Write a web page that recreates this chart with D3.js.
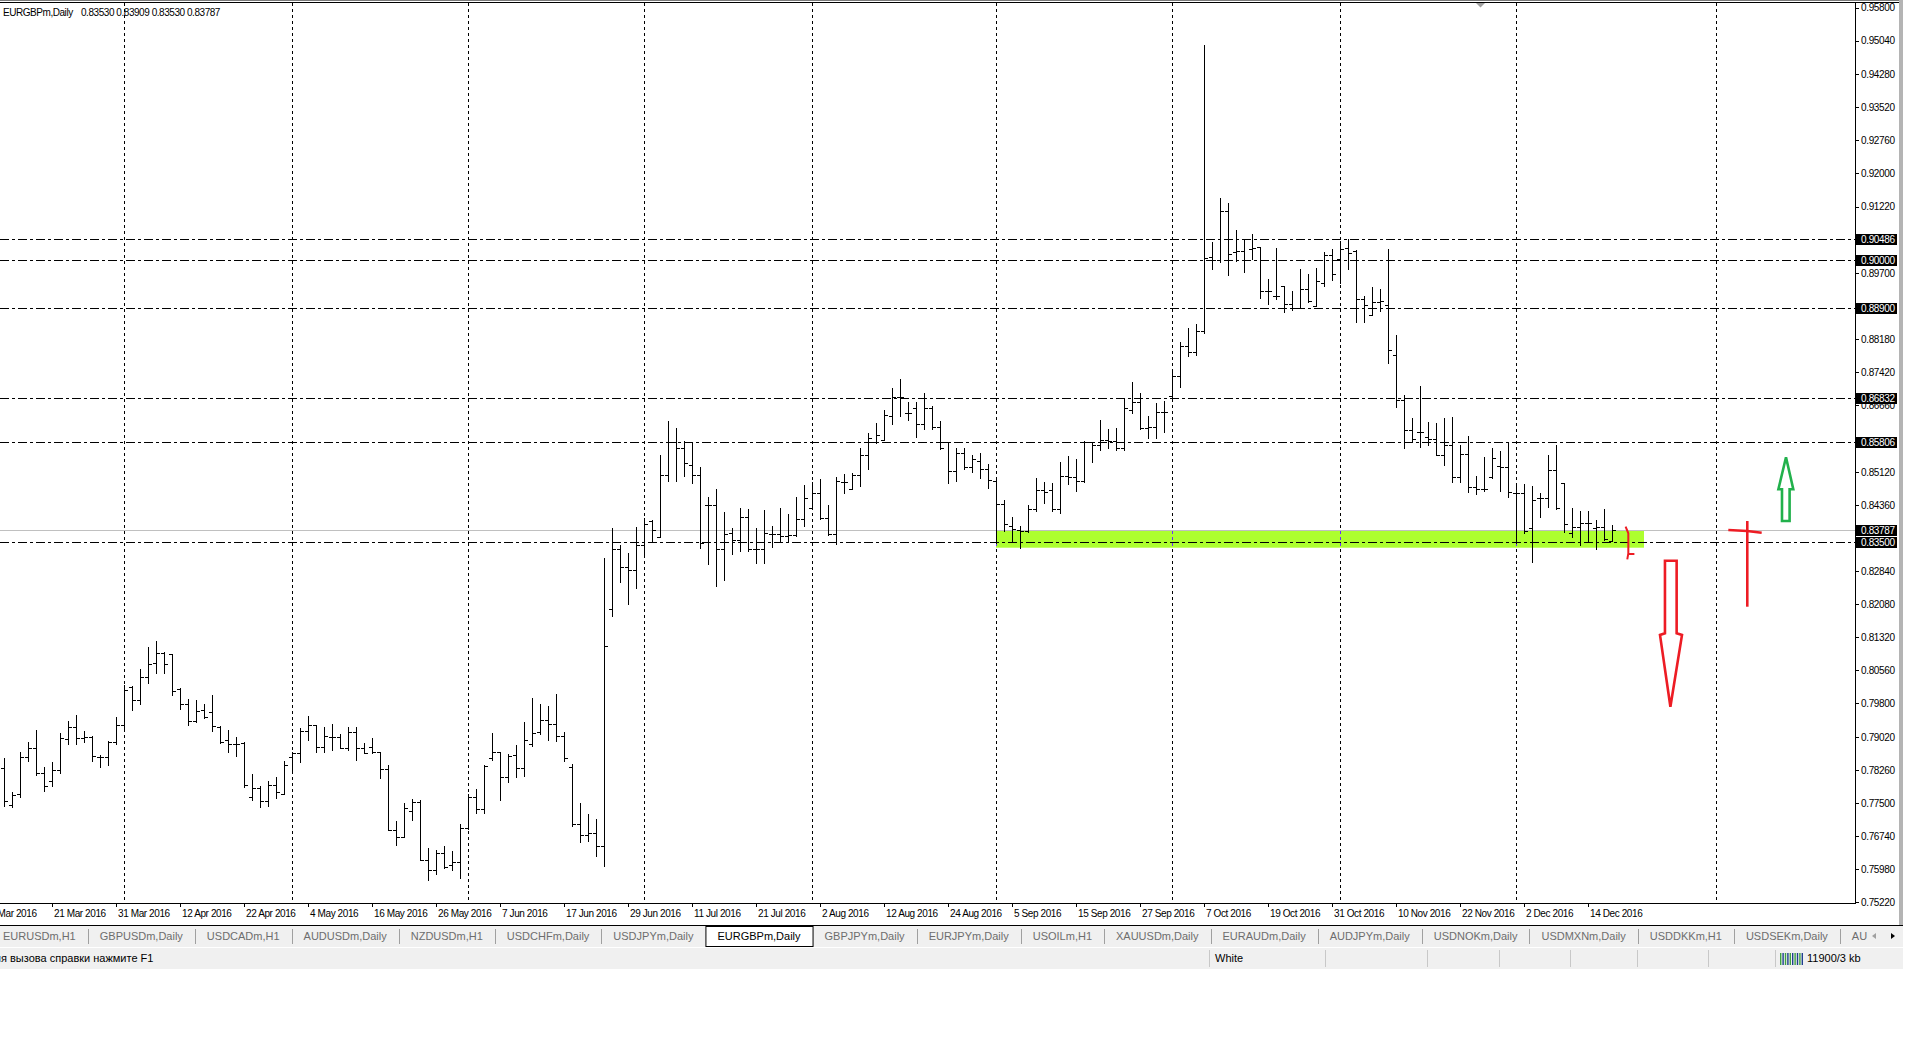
<!DOCTYPE html>
<html><head><meta charset="utf-8">
<script src="https://cdn.jsdelivr.net/npm/d3@7/dist/d3.min.js"></script>
<style>
html,body{margin:0;padding:0;background:#fff;overflow:hidden;}
svg{display:block;}
text{font-family:"Liberation Sans",Arial,sans-serif;}
</style></head><body>
<svg id="c" width="1920" height="1040"></svg>
<script>
// ---------------- DATA ----------------
const symbolTitle = "EURGBPm,Daily";
const lastQuote = [0.83530, 0.83909, 0.83530, 0.83787];
const firstBarDate = "2016-03-11";
const opens = [
0.7830,0.7746,0.7770,0.7856,0.7877,0.7818,0.7800,0.7826,0.7897,0.7924,
0.7900,0.7903,0.7856,0.7856,0.7890,0.7929,0.8018,0.7988,0.8041,0.8073,
0.8096,0.8093,0.8012,0.7979,0.7939,0.7964,0.7959,0.7926,0.7895,0.7885,
0.7889,0.7763,0.7785,0.7754,0.7792,0.7770,0.7855,0.7865,0.7915,0.7929,
0.7878,0.7903,0.7903,0.7877,0.7913,0.7877,0.7880,0.7867,0.7828,0.7689,
0.7671,0.7732,0.7752,0.7619,0.7596,0.7635,0.7608,0.7615,0.7692,0.7765,
0.7737,0.7853,0.7867,0.7811,0.7860,0.7831,0.7885,0.7913,0.7940,0.7931,
0.7905,0.7834,0.7702,0.7676,0.7681,0.7651,0.8196,0.8335,0.8294,0.8287,
0.8343,0.8399,0.8363,0.8506,0.8581,0.8568,0.8529,0.8504,0.8435,0.8435,
0.8334,0.8372,0.8355,0.8408,0.8334,0.8334,0.8368,0.8368,0.8364,0.8366,
0.8403,0.8428,0.8464,0.8405,0.8368,0.8489,0.8472,0.8504,0.8550,0.8581,
0.8585,0.8641,0.8684,0.8648,0.8658,0.8623,0.8660,0.8616,0.8582,0.8513,
0.8556,0.8524,0.8537,0.8519,0.8491,0.8439,0.8387,0.8379,0.8375,0.8426,
0.8470,0.8470,0.8426,0.8503,0.8500,0.8490,0.8580,0.8575,0.8585,0.8583,
0.8566,0.8655,0.8672,0.8612,0.8616,0.8651,0.8686,0.8732,0.8802,0.8788,
0.8836,0.9007,0.9000,0.9113,0.9017,0.9020,0.9025,0.9029,0.8929,0.8916,
0.8940,0.8899,0.8889,0.8932,0.8893,0.8947,0.9011,0.9001,0.9028,0.9020,
0.8909,0.8874,0.8903,0.8897,0.8781,0.8678,0.8609,0.8604,0.8592,0.8588,
0.8552,0.8573,0.8500,0.8553,0.8478,0.8472,0.8500,0.8525,0.8523,0.8463,
0.8463,0.8382,0.8452,0.8452,0.8517,0.8486,0.8372,0.8385,0.8394,0.8382,
0.8385,0.83530];
const highs = [
0.7853,0.7775,0.7867,0.7890,0.7918,0.7834,0.7844,0.7910,0.7938,0.7952,
0.7915,0.7905,0.7860,0.7892,0.7949,0.8021,0.8020,0.8058,0.8108,0.8122,
0.8098,0.8094,0.8014,0.7989,0.7986,0.7978,0.7998,0.7928,0.7918,0.7901,
0.7890,0.7816,0.7790,0.7801,0.7809,0.7847,0.7867,0.7923,0.7951,0.7930,
0.7924,0.7932,0.7908,0.7924,0.7924,0.7887,0.7899,0.7867,0.7838,0.7708,
0.7750,0.7759,0.7757,0.7647,0.7642,0.7651,0.7640,0.7702,0.7771,0.7782,
0.7838,0.7911,0.7868,0.7863,0.7883,0.7936,0.7992,0.7978,0.7974,0.8001,
0.7913,0.7840,0.7750,0.7724,0.7714,0.8315,0.8382,0.8343,0.8326,0.8385,
0.8407,0.8401,0.8550,0.8629,0.8614,0.8583,0.8582,0.8524,0.8454,0.8472,
0.8419,0.8382,0.8430,0.8426,0.8384,0.8424,0.8388,0.8428,0.8415,0.8454,
0.8481,0.8489,0.8495,0.8435,0.8500,0.8507,0.8510,0.8568,0.8602,0.8625,
0.8654,0.8704,0.8725,0.8673,0.8673,0.8693,0.8663,0.8629,0.8582,0.8567,
0.8567,0.8552,0.8556,0.8530,0.8500,0.8447,0.8408,0.8387,0.8437,0.8497,
0.8488,0.8486,0.8535,0.8548,0.8541,0.8584,0.8581,0.8632,0.8610,0.8612,
0.8680,0.8718,0.8694,0.8641,0.8671,0.8675,0.8749,0.8811,0.8844,0.8852,
0.9495,0.9041,0.9142,0.9130,0.9068,0.9049,0.9060,0.9029,0.8957,0.9027,
0.8941,0.8928,0.8980,0.8967,0.8982,0.9019,0.9024,0.9043,0.9049,0.9022,
0.8916,0.8938,0.8932,0.9024,0.8826,0.8690,0.8636,0.8709,0.8627,0.8624,
0.8636,0.8638,0.8573,0.8595,0.8502,0.8546,0.8567,0.8561,0.8581,0.8486,
0.8485,0.8480,0.8463,0.8552,0.8575,0.8486,0.8430,0.8422,0.8422,0.8402,
0.8427,0.83909];
const lows = [
0.7743,0.7740,0.7763,0.7846,0.7814,0.7778,0.7790,0.7818,0.7886,0.7886,
0.7890,0.7847,0.7834,0.7838,0.7886,0.7920,0.7965,0.7978,0.8027,0.8050,
0.8050,0.7999,0.7966,0.7930,0.7937,0.7945,0.7916,0.7887,0.7868,0.7859,
0.7786,0.7758,0.7740,0.7744,0.7761,0.7770,0.7821,0.7845,0.7896,0.7867,
0.7868,0.7871,0.7876,0.7871,0.7850,0.7864,0.7864,0.7807,0.7689,0.7654,
0.7671,0.7710,0.7619,0.7572,0.7586,0.7601,0.7595,0.7578,0.7690,0.7727,
0.7727,0.7849,0.7756,0.7799,0.7811,0.7813,0.7882,0.7908,0.7896,0.7893,
0.7846,0.7696,0.7660,0.7662,0.7629,0.7604,0.8181,0.8259,0.8208,0.8244,
0.8319,0.8353,0.8363,0.8491,0.8491,0.8503,0.8487,0.8338,0.8300,0.8250,
0.8264,0.8322,0.8330,0.8330,0.8303,0.8303,0.8340,0.8352,0.8352,0.8364,
0.8388,0.8426,0.8403,0.8367,0.8347,0.8463,0.8472,0.8480,0.8519,0.8578,
0.8585,0.8623,0.8641,0.8631,0.8592,0.8610,0.8610,0.8565,0.8487,0.8491,
0.8519,0.8512,0.8499,0.8476,0.8349,0.8376,0.8354,0.8336,0.8373,0.8423,
0.8441,0.8423,0.8418,0.8484,0.8468,0.8488,0.8535,0.8562,0.8567,0.8562,
0.8562,0.8648,0.8610,0.8589,0.8591,0.8603,0.8679,0.8708,0.8778,0.8782,
0.8831,0.8979,0.8996,0.8965,0.8998,0.8972,0.9002,0.8912,0.8898,0.8911,
0.8881,0.8885,0.8889,0.8904,0.8893,0.8941,0.8954,0.8947,0.8979,0.8856,
0.8856,0.8872,0.8883,0.8763,0.8661,0.8567,0.8581,0.8569,0.8575,0.8550,
0.8527,0.8488,0.8488,0.8465,0.8461,0.8469,0.8498,0.8467,0.8455,0.8348,
0.8372,0.8305,0.8408,0.8431,0.8426,0.8373,0.8362,0.8343,0.8350,0.8334,
0.8356,0.83530];
const closes = [
0.7755,0.7769,0.7856,0.7877,0.7818,0.7790,0.7826,0.7900,0.7924,0.7900,
0.7901,0.7859,0.7856,0.7890,0.7929,0.8010,0.7987,0.8041,0.8071,0.8096,
0.8071,0.8008,0.7979,0.7939,0.7962,0.7947,0.7928,0.7891,0.7885,0.7885,
0.7792,0.7784,0.7754,0.7792,0.7775,0.7838,0.7865,0.7915,0.7929,0.7878,
0.7905,0.7903,0.7877,0.7913,0.7877,0.7866,0.7867,0.7828,0.7689,0.7671,
0.7738,0.7752,0.7619,0.7596,0.7635,0.7602,0.7615,0.7692,0.7765,0.7737,
0.7835,0.7867,0.7811,0.7859,0.7831,0.7894,0.7910,0.7940,0.7931,0.7905,
0.7853,0.7702,0.7676,0.7681,0.7651,0.8112,0.8335,0.8294,0.8287,0.8343,
0.8391,0.8378,0.8506,0.8581,0.8568,0.8533,0.8504,0.8349,0.8435,0.8334,
0.8368,0.8355,0.8408,0.8334,0.8334,0.8371,0.8368,0.8364,0.8366,0.8403,
0.8451,0.8464,0.8405,0.8368,0.8490,0.8489,0.8504,0.8550,0.8591,0.8598,
0.8643,0.8684,0.8684,0.8647,0.8623,0.8660,0.8616,0.8568,0.8513,0.8556,
0.8524,0.8541,0.8519,0.8493,0.8439,0.8392,0.8380,0.8377,0.8426,0.8470,
0.8466,0.8426,0.8503,0.8500,0.8490,0.8581,0.8575,0.8585,0.8583,0.8567,
0.8659,0.8672,0.8612,0.8616,0.8651,0.8651,0.8732,0.8802,0.8788,0.8836,
0.9004,0.9000,0.9113,0.9014,0.9020,0.9000,0.9027,0.8929,0.8928,0.8916,
0.8899,0.8889,0.8932,0.8905,0.8951,0.9011,0.8967,0.9026,0.9016,0.8909,
0.8897,0.8903,0.8905,0.8793,0.8677,0.8609,0.8588,0.8604,0.8588,0.8550,
0.8573,0.8500,0.8553,0.8477,0.8472,0.8472,0.8545,0.8523,0.8465,0.8463,
0.8375,0.8448,0.8452,0.8517,0.8429,0.8391,0.8386,0.8394,0.8394,0.8385,
0.8357,0.83787];
const dateLabels = ["9 Mar 2016","21 Mar 2016","31 Mar 2016","12 Apr 2016","22 Apr 2016","4 May 2016",
"16 May 2016","26 May 2016","7 Jun 2016","17 Jun 2016","29 Jun 2016","11 Jul 2016","21 Jul 2016",
"2 Aug 2016","12 Aug 2016","24 Aug 2016","5 Sep 2016","15 Sep 2016","27 Sep 2016","7 Oct 2016",
"19 Oct 2016","31 Oct 2016","10 Nov 2016","22 Nov 2016","2 Dec 2016","14 Dec 2016"];
const gridDates = ["2016-04-01","2016-05-02","2016-06-01","2016-07-01","2016-08-01","2016-09-01",
"2016-10-03","2016-11-01","2016-12-01","2017-01-05"];
const priceTicks = [0.95800,0.95040,0.94280,0.93520,0.92760,0.92000,0.91220,0.89700,0.88180,
0.87420,0.86660,0.85120,0.84360,0.82840,0.82080,0.81320,0.80560,0.79800,0.79020,
0.78260,0.77500,0.76740,0.75980,0.75220];
const levelLines = [0.90486, 0.90000, 0.88900, 0.86832, 0.85806, 0.83500];
const bidPrice = 0.83787;
const zoneDates = ["2016-09-01","2016-12-23"];
const zonePrices = [0.83376, 0.83760];
// hand drawn annotations, [bar, price]
const downArrow = [[208.3,0.79716],[207.0,0.81367],[207.62,0.81406],[207.62,0.83077],[209.08,0.83077],[209.08,0.81406],[209.75,0.81367],[208.3,0.79716]];
const upArrow = [[222.75,0.85456],[221.8,0.84720],[222.25,0.84720],[222.25,0.83990],[223.2,0.83990],[223.2,0.84720],[223.66,0.84720],[222.75,0.85456]];
const crossH = [[215.54,0.83783],[217.9,0.83762],[219.71,0.83721]];
const crossV = [[217.91,0.83990],[217.91,0.82018]];
const redMark = [[202.7,0.83859],[203.04,0.83707],[203.04,0.83247],[202.91,0.83109]];
const redMarkTick = [[203.04,0.83231],[203.8,0.83231]];
const tabs = ["EURUSDm,H1","GBPUSDm,Daily","USDCADm,H1","AUDUSDm,Daily","NZDUSDm,H1","USDCHFm,Daily",
"USDJPYm,Daily","EURGBPm,Daily","GBPJPYm,Daily","EURJPYm,Daily","USOILm,H1","XAUUSDm,Daily",
"EURAUDm,Daily","AUDJPYm,Daily","USDNOKm,Daily","USDMXNm,Daily","USDDKKm,H1","USDSEKm,Daily","AU"];
const activeTab = "EURGBPm,Daily";
const statusHelp = "Для вызова справки нажмите F1";
const statusProfile = "White";
const statusTraffic = "11900/3 kb";

// ---------------- LAYOUT ----------------
const svg = d3.select("#c");
const P = {left:0, top:3, right:1855, bottom:903};
const y = d3.scaleLinear().domain([0.75199, 0.95912]).range([P.bottom, P.top]);
const x = d3.scaleLinear().domain([0, 230]).range([4, 4 + 8*230]);
const parseISO = d3.timeParse("%Y-%m-%d");
const parseLbl = d3.timeParse("%d %b %Y");
const days = d3.timeDay.range(parseISO("2016-03-01"), parseISO("2017-02-01")).filter(d => d.getDay()!==0 && d.getDay()!==6);
const base = days.findIndex(d => +d === +parseISO(firstBarDate));
const barOf = d => days.findIndex(e => +e === +d) - base;
const px = v => Math.round(v) + 0.5;

svg.append("rect").attr("width",1920).attr("height",1040).attr("fill","#fff");
svg.append("defs").append("clipPath").attr("id","clip").append("rect")
  .attr("x",P.left).attr("y",P.top).attr("width",P.right-P.left).attr("height",P.bottom-P.top);
const g = svg.append("g").attr("clip-path","url(#clip)");

// zone
const zx0 = x(barOf(parseISO(zoneDates[0]))), zx1 = x(barOf(parseISO(zoneDates[1])));
const zy0 = y(zonePrices[1]), zy1 = y(zonePrices[0]);
g.append("rect").attr("x",zx0).attr("y",zy0).attr("width",zx1-zx0).attr("height",zy1-zy0).attr("fill","#adff2f");

// vertical grid
const gridBars = gridDates.map(s => barOf(parseISO(s)));
g.selectAll("line.grid").data(gridBars).join("line").attr("class","grid")
  .attr("x1",d=>px(x(d))).attr("x2",d=>px(x(d))).attr("y1",P.top).attr("y2",P.bottom)
  .attr("stroke","#000").attr("stroke-dasharray","3,3").attr("shape-rendering","crispEdges");
g.selectAll("line.gridz").data(gridBars.filter(d => x(d) >= zx0 && x(d) <= zx1)).join("line").attr("class","gridz")
  .attr("x1",d=>px(x(d))).attr("x2",d=>px(x(d))).attr("y1",zy0).attr("y2",zy1)
  .attr("stroke","#6a2cff").attr("stroke-dasharray","3,3").attr("shape-rendering","crispEdges");

// level lines
g.selectAll("line.lvl").data(levelLines).join("line").attr("class","lvl")
  .attr("x1",P.left).attr("x2",P.right).attr("y1",d=>px(y(d))).attr("y2",d=>px(y(d)))
  .attr("stroke","#000").attr("stroke-dasharray","9,3,3,3").attr("shape-rendering","crispEdges");
// bid line
g.append("line").attr("x1",P.left).attr("x2",P.right).attr("y1",px(y(bidPrice))).attr("y2",px(y(bidPrice)))
  .attr("stroke","#c0c0c0").attr("shape-rendering","crispEdges");

// bars
const bars = d3.range(opens.length).map(i => ({i, o:opens[i], h:highs[i], l:lows[i], c:closes[i]}));
g.append("g").selectAll("path").data(bars).join("path")
  .attr("d", d => {
    const cx = px(x(d.i)), yo = px(y(d.o)), yc = px(y(d.c));
    const yh = Math.round(y(d.h)), yl = Math.round(y(d.l)) + 1;
    return `M${cx},${yh}V${yl}M${cx-3.5},${yo}H${cx}M${cx},${yc}H${cx+3.5}`;
  })
  .attr("fill","none").attr("stroke","#000").attr("stroke-width",1).attr("shape-rendering","crispEdges");

// annotations
const ln = d3.line().x(d => x(d[0])).y(d => y(d[1]));
const red = "#ed1c24", green = "#22b14c";
g.append("path").attr("d", ln(downArrow)).attr("fill","none").attr("stroke",red).attr("stroke-width",2.6).attr("stroke-linejoin","miter");
g.append("path").attr("d", ln(upArrow)).attr("fill","none").attr("stroke",green).attr("stroke-width",2.6).attr("stroke-linejoin","miter");
g.append("path").attr("d", ln(crossH)).attr("fill","none").attr("stroke",red).attr("stroke-width",2.6);
g.append("path").attr("d", ln(crossV)).attr("fill","none").attr("stroke",red).attr("stroke-width",2.6);
g.append("path").attr("d", ln(redMark)).attr("fill","none").attr("stroke",red).attr("stroke-width",2);
g.append("path").attr("d", ln(redMarkTick)).attr("fill","none").attr("stroke",red).attr("stroke-width",2);

// frame
svg.append("line").attr("x1",0).attr("x2",1899).attr("y1",0.5).attr("y2",0.5).attr("stroke","#7a7a7a");
svg.append("line").attr("x1",0).attr("x2",1899).attr("y1",2.5).attr("y2",2.5).attr("stroke","#000");
svg.append("line").attr("x1",P.right+0.5).attr("x2",P.right+0.5).attr("y1",P.top).attr("y2",P.bottom+1).attr("stroke","#000");
svg.append("line").attr("x1",0).attr("x2",P.right+1).attr("y1",P.bottom+0.5).attr("y2",P.bottom+0.5).attr("stroke","#000");
svg.append("rect").attr("x",1899).attr("y",0).attr("width",4).attr("height",925).attr("fill","#b4b4b4");
svg.append("path").attr("d","M1476,3L1485,3L1480.5,7.5Z").attr("fill","#a0a0a0");

// price axis
const fmt = d3.format(".5f");
const axisG = svg.append("g");
axisG.selectAll("line.t").data(priceTicks).join("line").attr("class","t")
  .attr("x1",P.right).attr("x2",P.right+4).attr("y1",d=>px(y(d))).attr("y2",d=>px(y(d))).attr("stroke","#000");
axisG.selectAll("text.t").data(priceTicks).join("text").attr("class","t")
  .attr("x",1861).attr("y",d=>y(d)+3.6).attr("font-size","10px").attr("letter-spacing","-0.35px")
  .attr("fill","#000").text(fmt);
const boxes = levelLines.concat([bidPrice]);
axisG.selectAll("rect.b").data(boxes).join("rect").attr("class","b")
  .attr("x",1856).attr("y",d=>Math.round(y(d))-5).attr("width",41).attr("height",11).attr("fill","#000");
axisG.selectAll("text.b").data(boxes).join("text").attr("class","b")
  .attr("x",1861).attr("y",d=>Math.round(y(d))+4).attr("font-size","10px").attr("letter-spacing","-0.35px")
  .attr("fill","#fff").text(fmt);

// time axis
const lblBars = dateLabels.map(s => ({s, b: barOf(parseLbl(s))}));
const tg = svg.append("g");
tg.selectAll("line").data(lblBars).join("line")
  .attr("x1",d=>px(x(d.b))).attr("x2",d=>px(x(d.b))).attr("y1",P.bottom).attr("y2",P.bottom+4).attr("stroke","#000");
tg.selectAll("text").data(lblBars).join("text")
  .attr("x",d=>x(d.b)+2).attr("y",917).attr("font-size","10px").attr("letter-spacing","-0.4px")
  .attr("fill","#000").text(d=>d.s);

// header
svg.append("text").attr("x",3).attr("y",15.5).attr("font-size","10px").attr("letter-spacing","-0.45px").text(symbolTitle);
svg.append("text").attr("x",81).attr("y",15.5).attr("font-size","10px").attr("letter-spacing","-0.45px")
  .text(lastQuote.map(fmt).join(" "));

// tab bar
svg.append("rect").attr("x",0).attr("y",925).attr("width",1903).attr("height",22).attr("fill","#f0f0f0");
svg.append("line").attr("x1",0).attr("x2",1903).attr("y1",925.5).attr("y2",925.5).attr("stroke","#000");
const tabG = svg.append("g");
let tx = -9;
tabs.forEach((name,k) => {
  const t = tabG.append("text").attr("y",940).attr("font-size","11px")
    .attr("fill", name===activeTab ? "#000" : "#6d6d6d").text(name);
  const w = t.node().getComputedTextLength();
  const tw = w + 24;
  if (name === activeTab) {
    tabG.insert("rect","text").attr("x",tx+0.5).attr("y",926.5).attr("width",tw).attr("height",20)
      .attr("fill","#fff").attr("stroke","#000");
  }
  t.attr("x", tx + 12);
  if (k < tabs.length-1 && name !== activeTab && tabs[k+1] !== activeTab) {
    tabG.append("line").attr("x1",px(tx+tw)).attr("x2",px(tx+tw)).attr("y1",929).attr("y2",944).attr("stroke","#a0a0a0");
  }
  tx += tw;
});
tabG.append("path").attr("d","M1876,933L1872,936L1876,939Z").attr("fill","#a0a0a0");
tabG.append("path").attr("d","M1891,933L1895,936L1891,939Z").attr("fill","#000");

// status bar
svg.append("rect").attr("x",0).attr("y",948).attr("width",1903).attr("height",21).attr("fill","#f0f0f0");
const cut = svg.append("text").attr("font-size","11px").text("Дл");
const cw = cut.node().getComputedTextLength(); cut.remove();
svg.append("text").attr("x",1-cw).attr("y",962).attr("font-size","11px").attr("fill","#000").text(statusHelp);
[1209.5,1325.5,1427.5,1499.5,1570.5,1637.5,1708.5,1775.5].forEach(sx =>
  svg.append("line").attr("x1",sx).attr("x2",sx).attr("y1",950).attr("y2",967).attr("stroke","#c8c8c8"));
svg.append("text").attr("x",1215).attr("y",962).attr("font-size","11px").attr("fill","#000").text(statusProfile);
const ic = svg.append("g");
d3.range(10).forEach(k => ic.append("rect").attr("x",1780+k*2.4).attr("y",953).attr("width",1.4).attr("height",12)
  .attr("fill", k%2 ? "#1f3f8f" : "#3fa33f"));
svg.append("text").attr("x",1807).attr("y",962).attr("font-size","11px").attr("fill","#000").text(statusTraffic);
</script>
</body></html>
